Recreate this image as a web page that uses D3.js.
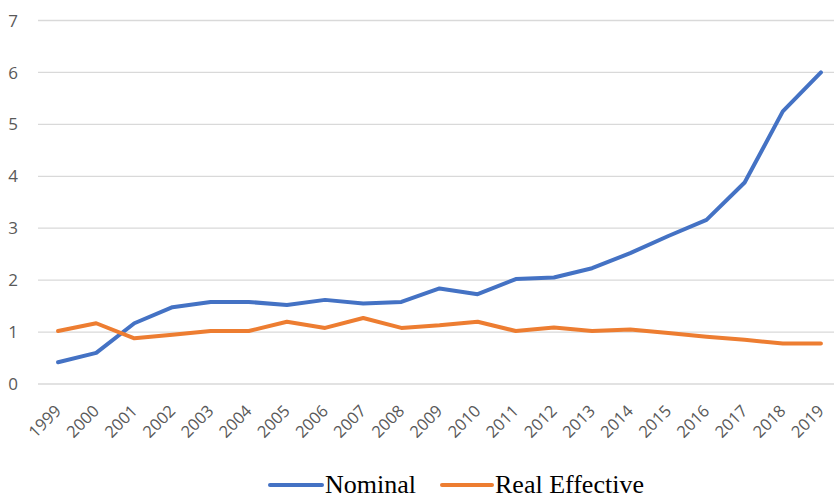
<!DOCTYPE html>
<html>
<head>
<meta charset="utf-8">
<script src="https://cdn.jsdelivr.net/npm/d3@7"></script>
<style>
  html, body { margin: 0; padding: 0; background: #fff; }
  svg { display: block; }
</style>
</head>
<body>
<svg id="chart" width="834" height="502"></svg>
<script>
const years = ["1999","2000","2001","2002","2003","2004","2005","2006","2007","2008","2009","2010","2011","2012","2013","2014","2015","2016","2017","2018","2019"];
const nominal = [0.42,0.60,1.17,1.48,1.58,1.58,1.52,1.62,1.55,1.58,1.84,1.73,2.02,2.05,2.23,2.52,2.85,3.16,3.88,5.25,6.00];
const realEffective = [1.02,1.17,0.88,0.95,1.02,1.02,1.20,1.08,1.27,1.08,1.13,1.20,1.02,1.09,1.02,1.05,0.98,0.91,0.85,0.78,0.78];
const yTicks = [0,1,2,3,4,5,6,7];
const seriesNames = ["Nominal","Real Effective"];
const seriesColors = ["#4472C4","#ED7D31"];

const svg = d3.select("#chart");
const W = 834;

const x = d3.scalePoint().domain(years).range([39, 840]).padding(0.5);
const y = d3.scaleLinear().domain([0, 7]).range([384, 20.5]);

// gridlines
svg.append("g").selectAll("line").data(yTicks).join("line")
  .attr("x1", 38).attr("x2", W)
  .attr("y1", d => y(d)).attr("y2", d => y(d))
  .attr("stroke", "#d9d9d9").attr("stroke-width", 1.3);

// y labels
svg.append("g").selectAll("text").data(yTicks).join("text")
  .attr("x", 18).attr("y", d => y(d))
  .attr("dy", "0.36em")
  .attr("text-anchor", "end")
  .attr("font-family", "'Open Sans', sans-serif")
  .attr("font-size", 17)
  .attr("fill", "#595959")
  .text(d => d);

// x labels
svg.append("g").selectAll("text").data(years).join("text")
  .attr("transform", d => `translate(${x(d) + 4},412) rotate(-45)`)
  .attr("text-anchor", "end")
  .attr("font-family", "'Open Sans', sans-serif")
  .attr("font-size", 16.5)
  .attr("fill", "#595959")
  .text(d => d);

// lines
const line = d3.line().x((d, i) => x(years[i])).y(d => y(d));
[nominal, realEffective].forEach((vals, k) => {
  svg.append("path").datum(vals)
    .attr("d", line)
    .attr("fill", "none")
    .attr("stroke", seriesColors[k])
    .attr("stroke-width", 4)
    .attr("stroke-linejoin", "round")
    .attr("stroke-linecap", "round");
});

// legend
const legendItems = [
  {name: seriesNames[0], color: seriesColors[0], x1: 270, x2: 322, tx: 325},
  {name: seriesNames[1], color: seriesColors[1], x1: 442, x2: 492, tx: 495}
];
const lg = svg.append("g");
legendItems.forEach(it => {
  lg.append("line")
    .attr("x1", it.x1).attr("x2", it.x2).attr("y1", 485).attr("y2", 485)
    .attr("stroke", it.color).attr("stroke-width", 4).attr("stroke-linecap", "round");
  lg.append("text")
    .attr("x", it.tx).attr("y", 493)
    .attr("font-family", "'Liberation Serif', 'Times New Roman', serif")
    .attr("font-size", 26)
    .attr("fill", "#000")
    .text(it.name);
});
</script>
</body>
</html>
